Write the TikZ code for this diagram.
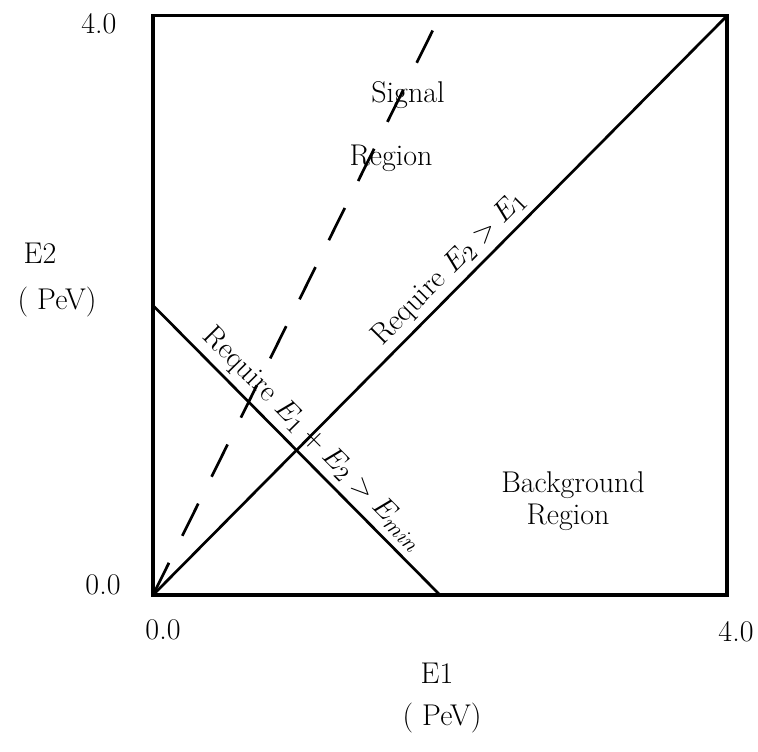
\documentclass[tikz,border=0pt]{standalone}
\begin{document}
\begin{tikzpicture}[x=71.75pt,y=72.4pt,
  lbl/.style={font=\fontsize{15}{18}\selectfont, inner sep=0pt},
  boxline/.style={line width=1.7pt},
  diagline/.style={line width=1.35pt},
  dashline/.style={line width=1.35pt, dash pattern=on 18pt off 15pt},
  slopelbl/.style={font=\fontsize{15}{18}\selectfont, sloped, above, inner sep=2.5pt}]
\useasboundingbox (-76.5pt,-78pt) rectangle (302.5pt,297.5pt);
\coordinate (O) at (0,0);
\coordinate (X) at (4,0);
\coordinate (T) at (4,4);
\coordinate (Y) at (0,4);
\coordinate (A) at (0,2);
\coordinate (B) at (2,0);
\coordinate (D) at (2,4);
\draw[boxline] (O) rectangle (T);
\draw[dashline] (O) -- (D);
\draw[diagline] (O) -- node[slopelbl, pos=0.54] (l1) {Require $E_2 > E_1$} (T);
\draw[diagline] (A) -- node[slopelbl, pos=0.51] (l2) {Require $E_1 + E_2 > E_{min}$} (B);
\node[lbl] (sig) at (127.5pt,250pt) {Signal};
\node[lbl] (sigr) at (119pt,218.5pt) {Region};
\node[lbl] (bg) at (210pt,55pt) {Background};
\node[lbl] (bgr) at (207.5pt,39pt) {Region};
\node[lbl] (y4) at (-27pt,285.5pt) {4.0};
\node[lbl] (y0) at (-25pt,5pt) {0.0};
\node[lbl] (x0) at (5pt,-17.5pt) {0.0};
\node[lbl] (x4) at (291.5pt,-18.5pt) {4.0};
\node[lbl] (e2) at (-56.5pt,171pt) {E2};
\node[lbl] (e2u) at (-48pt,146.5pt) {( PeV)};
\node[lbl] (e1) at (142pt,-39pt) {E1};
\node[lbl] (e1u) at (144.5pt,-61.5pt) {( PeV)};
\end{tikzpicture}
\end{document}
